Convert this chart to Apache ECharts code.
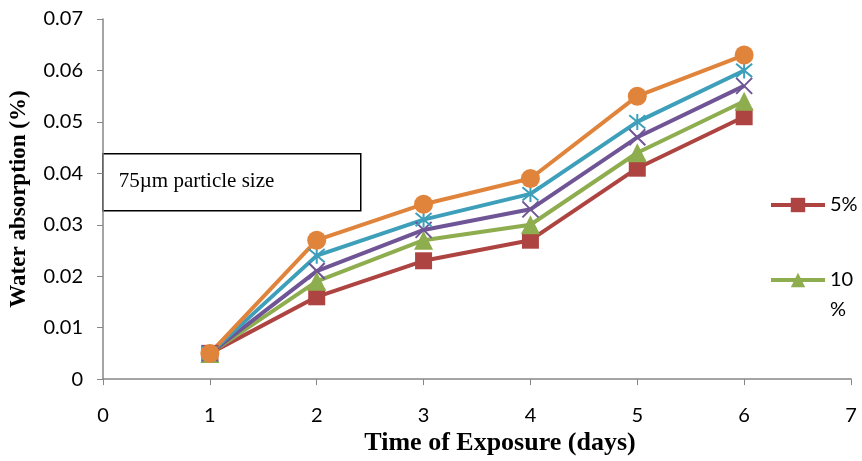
<!DOCTYPE html>
<html>
<head>
<meta charset="utf-8">
<script src="https://cdn.jsdelivr.net/npm/echarts@6/dist/echarts.min.js"></script>
<style>
  html, body { margin: 0; padding: 0; background: #fff; }
  #chart { width: 862px; height: 461px; }
</style>
</head>
<body>
<div id="chart"></div>
<script>
// Exposure time (days)
const days = [1, 2, 3, 4, 5, 6];
// Water absorption (%) for each filler loading
const s5  = [0.005, 0.016, 0.023, 0.027, 0.041, 0.051];
const s10 = [0.005, 0.019, 0.027, 0.030, 0.044, 0.054];
const s15 = [0.005, 0.021, 0.029, 0.033, 0.047, 0.057];
const s20 = [0.005, 0.024, 0.031, 0.036, 0.050, 0.060];
const s25 = [0.005, 0.027, 0.034, 0.039, 0.055, 0.063];
const seriesNames = ['5%', '10 %', '15%', '20%', '25%'];
const yTicks = [0, 0.01, 0.02, 0.03, 0.04, 0.05, 0.06, 0.07];

const pairs = arr => days.map((d, i) => [d, arr[i]]);

const crossPath = 'path://M0,0 L10,10 M10,0 L0,10';
const starPath = 'path://M0,0 L10,10 M10,0 L0,10 M5,-1 L5,11';

function lineSeries(name, data, color, symbol, size, stroked) {
  return {
    name: name,
    type: 'line',
    data: pairs(data),
    symbol: symbol,
    symbolSize: size,
    lineStyle: { color: color, width: 4 },
    itemStyle: stroked
      ? { color: color, borderColor: color, borderWidth: 2 }
      : { color: color },
    emphasis: { disabled: true }
  };
}

const labelFont = { fontFamily: 'Lato', fontSize: 20, color: '#000' };
const legendCommon = {
  orient: 'vertical',
  left: 764,
  itemWidth: 54,
  itemHeight: 18,
  selectedMode: false,
  lineStyle: { width: 4 },
  textStyle: { fontFamily: 'Lato', fontSize: 20, color: '#000', lineHeight: 30 }
};

const chart = echarts.init(document.getElementById('chart'));
chart.setOption({
  animation: false,
  backgroundColor: '#fff',
  grid: { left: 103, right: 11, top: 19, bottom: 77 },
  xAxis: {
    type: 'value',
    min: 0, max: 7, interval: 1,
    name: 'Time of Exposure (days)',
    nameLocation: 'middle',
    nameGap: 49,
    nameTextStyle: { fontFamily: 'Liberation Serif', fontWeight: 'bold', fontSize: 26, color: '#000', padding: [0, 0, 0, 46] },
    axisLine: { lineStyle: { color: '#868686', width: 1.5 } },
    axisTick: { show: true, length: 6, lineStyle: { color: '#868686' } },
    axisLabel: Object.assign({ margin: 26 }, labelFont),
    splitLine: { show: false }
  },
  yAxis: {
    type: 'value',
    min: 0, max: 0.07, interval: 0.01,
    name: 'Water absorption (%)',
    nameLocation: 'middle',
    nameGap: 72,
    nameTextStyle: { fontFamily: 'Liberation Serif', fontWeight: 'bold', fontSize: 23, color: '#000' },
    axisLine: { show: true, lineStyle: { color: '#868686', width: 1.5 } },
    axisTick: { show: true, length: 6, lineStyle: { color: '#868686' } },
    axisLabel: Object.assign({
      margin: 20,
      formatter: v => {
        const t = yTicks.find(k => Math.abs(k - v) < 1e-9);
        return t === 0 ? '0' : (t !== undefined ? t.toFixed(2) : '');
      }
    }, labelFont),
    splitLine: { show: false }
  },
  legend: [
    Object.assign({ data: ['5%'], top: 185 }, legendCommon),
    Object.assign({
      data: ['10 %'], top: 230,
      // keep the first text line level with the legend icon
      formatter: n => ' \n' + n.replace(' ', '\n')
    }, legendCommon)
  ],
  graphic: [{
    type: 'group',
    left: 102, top: 153,
    children: [
      { type: 'rect', shape: { x: 0, y: 0, width: 258, height: 57 },
        style: { fill: '#fff', stroke: '#000', lineWidth: 1.5 } },
      { type: 'text', x: 16, y: 28,
        style: { text: '75µm particle size', fontFamily: 'Liberation Serif', fontSize: 21, fill: '#000', verticalAlign: 'middle' } }
    ]
  }],
  series: [
    lineSeries(seriesNames[0], s5,  '#AE4441', 'rect', 17, false),
    lineSeries(seriesNames[1], s10, '#8EAD4E', 'triangle', 19, false),
    lineSeries(seriesNames[2], s15, '#6F5596', crossPath, 16, true),
    lineSeries(seriesNames[3], s20, '#3D9FBA', starPath, 16, true),
    lineSeries(seriesNames[4], s25, '#E0843B', 'circle', 19, false)
  ]
});
</script>
</body>
</html>
